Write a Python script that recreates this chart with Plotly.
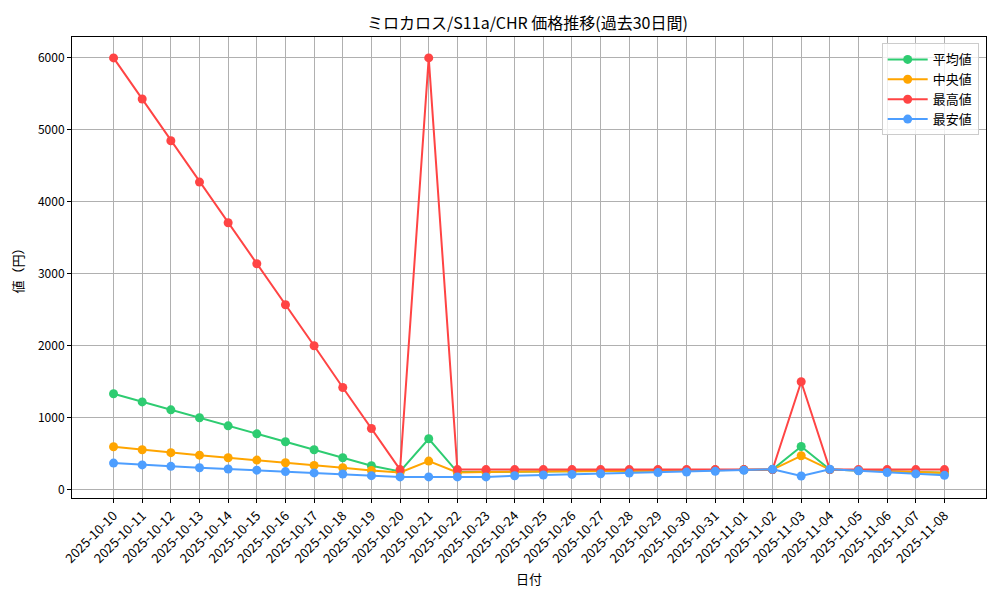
import plotly.graph_objects as go

dates = ["2025-10-10", "2025-10-11", "2025-10-12", "2025-10-13", "2025-10-14", "2025-10-15",
         "2025-10-16", "2025-10-17", "2025-10-18", "2025-10-19", "2025-10-20", "2025-10-21",
         "2025-10-22", "2025-10-23", "2025-10-24", "2025-10-25", "2025-10-26", "2025-10-27",
         "2025-10-28", "2025-10-29", "2025-10-30", "2025-10-31", "2025-11-01", "2025-11-02",
         "2025-11-03", "2025-11-04", "2025-11-05", "2025-11-06", "2025-11-07", "2025-11-08"]

avg_vals = [1333, 1220, 1110, 1000, 888, 777, 666, 555, 444, 333, 255, 708,
            245, 250, 253, 256, 259, 262, 265, 268, 271, 274, 277, 280,
            600, 280, 268, 255, 243, 235]
median_vals = [597, 556, 515, 480, 445, 412, 375, 338, 305, 268, 240, 398,
               240, 248, 252, 255, 258, 261, 264, 267, 270, 273, 276, 280,
               472, 280, 268, 255, 243, 235]
max_vals = [6000, 5430, 4850, 4275, 3710, 3140, 2570, 2000, 1420, 850, 280, 6000,
            280, 280, 280, 280, 280, 280, 280, 280, 280, 280, 280, 280,
            1500, 280, 280, 280, 280, 280]
min_vals = [370, 345, 325, 306, 288, 272, 252, 234, 218, 195, 178, 178,
            178, 178, 194, 204, 213, 222, 231, 238, 245, 255, 270, 285,
            190, 285, 264, 240, 220, 200]

series = [
    ("平均値", avg_vals, "#2ecc71"),
    ("中央値", median_vals, "#ffa500"),
    ("最高値", max_vals, "#ff4444"),
    ("最安値", min_vals, "#4d9eff"),
]

FONT = "Noto Sans CJK JP"

fig = go.Figure()
for name, vals, color in series:
    fig.add_trace(go.Scatter(
        x=dates, y=vals, name=name, mode="lines+markers",
        line=dict(color=color, width=2),
        marker=dict(color=color, size=9),
    ))

fig.update_layout(
    width=1000, height=600,
    paper_bgcolor="white", plot_bgcolor="white",
    margin=dict(l=64, r=22, t=29, b=110),
    font=dict(family=FONT, size=12, color="black"),
    title=dict(text="ミロカロス/S11a/CHR 価格推移(過去30日間)", x=0.5195, xanchor="center",
               y=0.975, yanchor="middle", font=dict(size=16, family=FONT)),
    legend=dict(x=0.992, y=0.986, xanchor="right", yanchor="top",
                bgcolor="rgba(255,255,255,0.8)", bordercolor="#cccccc", borderwidth=1,
                font=dict(size=13, family=FONT), tracegroupgap=0, itemwidth=40),
    showlegend=True,
)

fig.update_xaxes(
    type="category", range=[-1.45, 30.45], automargin=False,
    tickangle=-45, tickfont=dict(size=13),
    showgrid=True, gridcolor="#b0b0b0", gridwidth=1,
    showline=True, linecolor="black", linewidth=1, mirror=True,
    ticks="outside", ticklen=4, tickcolor="black",
    title=dict(text="日付", font=dict(size=13), standoff=9),
    zeroline=False,
)
fig.update_yaxes(
    range=[-115, 6291], tickvals=[0, 1000, 2000, 3000, 4000, 5000, 6000],
    automargin=False,
    tickfont=dict(size=12),
    showgrid=True, gridcolor="#b0b0b0", gridwidth=1,
    showline=True, linecolor="black", linewidth=1, mirror=True,
    ticks="outside", ticklen=4, tickcolor="black",
    title=dict(text="値（円）", font=dict(size=13), standoff=14),
    zeroline=False,
)

fig.write_html("out.html")
